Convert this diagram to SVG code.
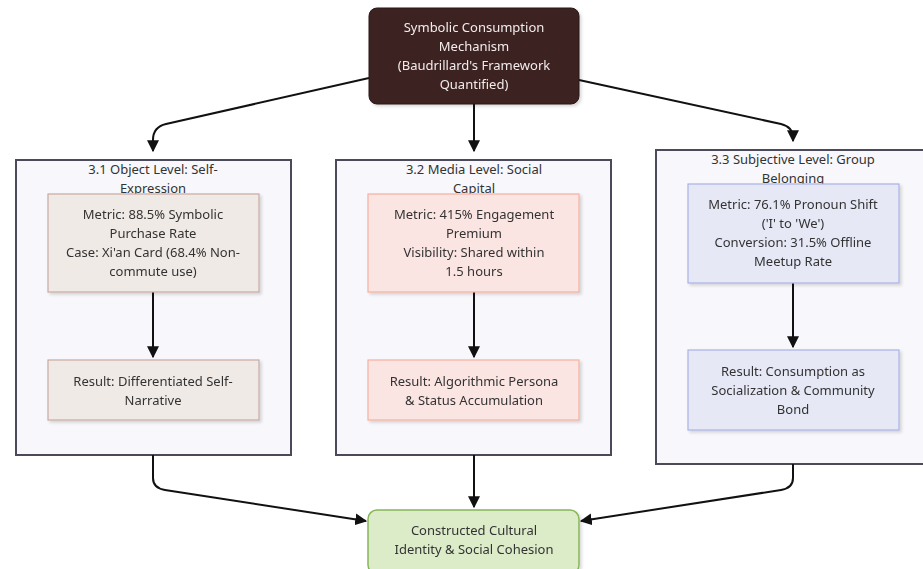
<svg xmlns="http://www.w3.org/2000/svg" width="923" height="569" viewBox="0 0 923 569">
<style>
text{font-family:"Noto Sans","Liberation Sans",sans-serif;font-size:13px;text-anchor:middle;fill:#333}
.cl{fill:#f8f8fc;stroke:#4a4a5a;stroke-width:2}
.n1{fill:#efeae6;stroke:#c8aaa2;stroke-width:1.2}
.n2{fill:#fbe5e2;stroke:#f6b09e;stroke-width:1.2}
.n3{fill:#e6e8f6;stroke:#a9b2e6;stroke-width:1.2}
.top{fill:#3d2323;stroke:#2a1818;stroke-width:1}
.bot{fill:#dcebc8;stroke:#86b758;stroke-width:1.5}
.e{fill:none;stroke:#111;stroke-width:2;marker-end:url(#ah)}
.w{fill:#f2ecea}
</style>
<defs>
<marker id="ah" viewBox="0 0 10 10" refX="9" refY="5" markerWidth="6" markerHeight="6" orient="auto" markerUnits="strokeWidth"><path d="M0,0L10,5L0,10z" fill="#111"/></marker>
<filter id="sh" x="-10%" y="-10%" width="120%" height="130%"><feDropShadow dx="2" dy="2" stdDeviation="1.5" flood-color="#000" flood-opacity="0.15"/></filter>
</defs>
<g id="cluster1"><rect class="cl" x="16" y="160" width="275" height="295"/>
<text x="153" y="174">3.1 Object Level: Self-</text><text x="153" y="193">Expression</text></g>
<g id="cluster2"><rect class="cl" x="336" y="160" width="275" height="295"/>
<text x="474" y="174">3.2 Media Level: Social</text><text x="474" y="193">Capital</text></g>
<g id="cluster3"><rect class="cl" x="656" y="150" width="275" height="314"/>
<text x="793" y="164">3.3 Subjective Level: Group</text><text x="793" y="183">Belonging</text></g>
<g id="connectors">
<path class="e" d="M369,78 L166,124 Q153,127 153,140 L153,151"/>
<path class="e" d="M474,104 L474,151"/>
<path class="e" d="M579,80 L781,124 Q793,127 793,138 L793,141"/>
<path class="e" d="M153,292 L153,357"/>
<path class="e" d="M474,292 L474,357"/>
<path class="e" d="M793,283 L793,347"/>
<path class="e" d="M153,455 L153,478 Q153,488 165,490 L366,521"/>
<path class="e" d="M474,455 L474,507"/>
<path class="e" d="M793,464 L793,478 Q793,488 781,490 L581,521"/>
</g>
<g id="top" filter="url(#sh)"><rect class="top" x="369" y="8" width="210" height="96" rx="8"/>
<text class="w" x="474" y="32" style="fill:#f2ecea">Symbolic Consumption</text><text x="474" y="51" style="fill:#f2ecea">Mechanism</text><text x="474" y="70" style="fill:#f2ecea">(Baudrillard's Framework</text><text x="474" y="89" style="fill:#f2ecea">Quantified)</text></g>
<g id="n1a" filter="url(#sh)"><rect class="n1" x="48" y="194" width="211" height="98"/>
<text x="153" y="219">Metric: 88.5% Symbolic</text><text x="153" y="238">Purchase Rate</text><text x="153" y="257">Case: Xi'an Card (68.4% Non-</text><text x="153" y="276">commute use)</text></g>
<g id="n1b" filter="url(#sh)"><rect class="n1" x="48" y="360" width="211" height="60"/>
<text x="153" y="386">Result: Differentiated Self-</text><text x="153" y="405">Narrative</text></g>
<g id="n2a" filter="url(#sh)"><rect class="n2" x="368" y="194" width="211" height="98"/>
<text x="474" y="219">Metric: 415% Engagement</text><text x="474" y="238">Premium</text><text x="474" y="257">Visibility: Shared within</text><text x="474" y="276">1.5 hours</text></g>
<g id="n2b" filter="url(#sh)"><rect class="n2" x="368" y="360" width="211" height="60"/>
<text x="474" y="386">Result: Algorithmic Persona</text><text x="474" y="405">&amp; Status Accumulation</text></g>
<g id="n3a" filter="url(#sh)"><rect class="n3" x="688" y="184" width="211" height="99"/>
<text x="793" y="209">Metric: 76.1% Pronoun Shift</text><text x="793" y="228">('I' to 'We')</text><text x="793" y="247">Conversion: 31.5% Offline</text><text x="793" y="266">Meetup Rate</text></g>
<g id="n3b" filter="url(#sh)"><rect class="n3" x="688" y="350" width="211" height="80"/>
<text x="793" y="376">Result: Consumption as</text><text x="793" y="395">Socialization &amp; Community</text><text x="793" y="414">Bond</text></g>
<g id="bottom" filter="url(#sh)"><rect class="bot" x="368" y="510" width="211" height="64" rx="9"/>
<text x="474" y="535">Constructed Cultural</text><text x="474" y="554">Identity &amp; Social Cohesion</text></g>
</svg>
